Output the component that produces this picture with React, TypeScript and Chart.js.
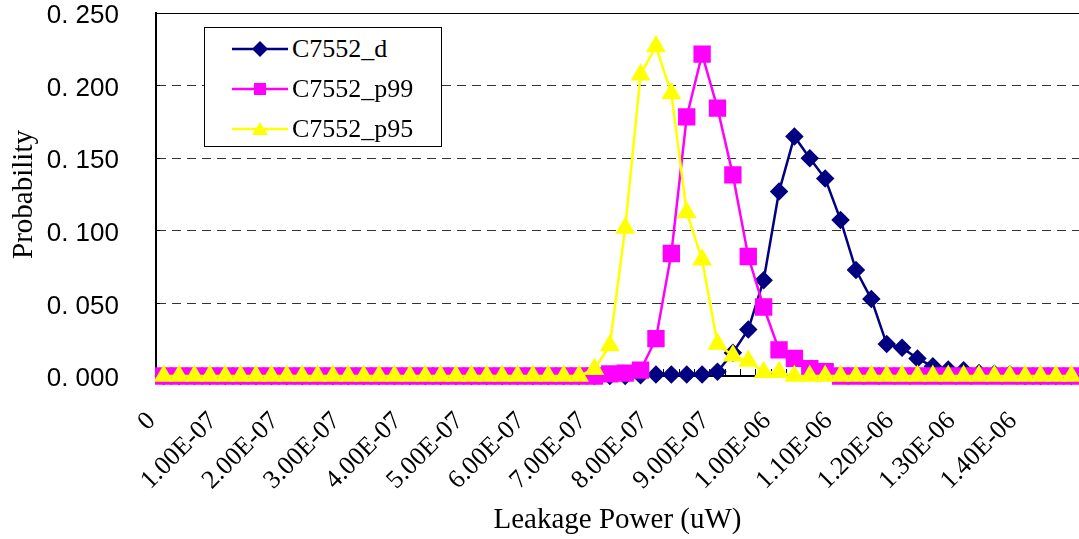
import React, { useEffect, useRef } from 'react';
import { Chart, registerables } from 'chart.js';

Chart.register(...registerables);

// Category axis: leakage power values (uW), one per bin
const categories: string[] = [
  '0', '2.50E-08', '5.00E-08', '7.50E-08', '1.00E-07', '1.25E-07', '1.50E-07', '1.75E-07',
  '2.00E-07', '2.25E-07', '2.50E-07', '2.75E-07', '3.00E-07', '3.25E-07', '3.50E-07', '3.75E-07',
  '4.00E-07', '4.25E-07', '4.50E-07', '4.75E-07', '5.00E-07', '5.25E-07', '5.50E-07', '5.75E-07',
  '6.00E-07', '6.25E-07', '6.50E-07', '6.75E-07', '7.00E-07', '7.25E-07', '7.50E-07', '7.75E-07',
  '8.00E-07', '8.25E-07', '8.50E-07', '8.75E-07', '9.00E-07', '9.25E-07', '9.50E-07', '9.75E-07',
  '1.00E-06', '1.03E-06', '1.05E-06', '1.08E-06', '1.10E-06', '1.13E-06', '1.15E-06', '1.18E-06',
  '1.20E-06', '1.23E-06', '1.25E-06', '1.28E-06', '1.30E-06', '1.33E-06', '1.35E-06', '1.38E-06',
  '1.40E-06', '1.43E-06', '1.45E-06', '1.48E-06',
];

const labelEvery = 4;

const seriesD: number[] = [
  0, 0, 0, 0, 0, 0, 0, 0, 0, 0,
  0, 0, 0, 0, 0, 0, 0, 0, 0, 0,
  0, 0, 0, 0, 0, 0, 0, 0, 0, 0,
  0, 0.0005, 0.001, 0.001, 0.001, 0.001, 0.003, 0.016, 0.032, 0.066,
  0.127, 0.165, 0.150, 0.136, 0.1075, 0.073, 0.053, 0.022, 0.0195, 0.012,
  0.0067, 0.0044, 0.0039, 0.002, 0.0016, 0.0012, 0, 0, 0, 0,
];

const seriesP99: number[] = [
  0, 0, 0, 0, 0, 0, 0, 0, 0, 0,
  0, 0, 0, 0, 0, 0, 0, 0, 0, 0,
  0, 0, 0, 0, 0, 0, 0, 0, 0, 0.0015,
  0.002, 0.004, 0.0257, 0.0844, 0.1785, 0.2217, 0.1845, 0.1385, 0.0823, 0.0475,
  0.018, 0.0121, 0.005, 0.003, 0, 0, 0, 0, 0, 0,
  0, 0, 0, 0, 0, 0, 0, 0, 0, 0,
];

const seriesP95: number[] = [
  0, 0, 0, 0, 0, 0, 0, 0, 0, 0,
  0, 0, 0, 0, 0, 0, 0, 0, 0, 0,
  0, 0, 0, 0, 0, 0, 0, 0, 0.0047, 0.021,
  0.102, 0.2075, 0.227, 0.1946, 0.1126, 0.0801, 0.022, 0.014, 0.0103, 0.0025,
  0.0025, 0, 0, 0, 0, 0, 0, 0, 0, 0,
  0, 0, 0, 0, 0, 0, 0, 0, 0, 0,
];

const yTickLabels: string[] = ['0. 000', '0. 050', '0. 100', '0. 150', '0. 200', '0. 250'];

const seriesNames = ['C7552_d', 'C7552_p99', 'C7552_p95'];
const seriesColors = ['#000080', '#FF00FF', '#FFFF00'];

const W = 1079;
const H = 539;

function LegendMarker({ shape, color }: { shape: string; color: string }) {
  let m: React.ReactNode = null;
  if (shape === 'diamond') m = <polygon points="28,2 36,10 28,18 20,10" fill={color} />;
  else if (shape === 'square') m = <rect x={22} y={4} width={12} height={12} fill={color} />;
  else m = <polygon points="28,3 36,16 20,16" fill={color} />;
  return (
    <svg width={56} height={20} style={{ display: 'block' }}>
      <line x1={0} y1={10} x2={56} y2={10} stroke={color} strokeWidth={2.5} />
      {m}
    </svg>
  );
}

export default function App() {
  const ref = useRef<HTMLCanvasElement>(null);

  useEffect(() => {
    const canvas = ref.current;
    if (!canvas) return;
    const serif = "'Liberation Serif', 'Times New Roman', serif";
    const sans = "'Liberation Sans', Arial, sans-serif";
    const chart = new Chart(canvas, {
      type: 'line',
      data: {
        labels: categories,
        datasets: [
          {
            label: seriesNames[0],
            data: seriesD,
            borderColor: seriesColors[0],
            backgroundColor: seriesColors[0],
            pointBackgroundColor: seriesColors[0],
            pointBorderColor: seriesColors[0],
            pointStyle: 'rectRot',
            pointRadius: 7.5,
            borderWidth: 2.5,
            tension: 0,
            order: 2,
            clip: false as any,
          },
          {
            label: seriesNames[1],
            data: seriesP99,
            borderColor: seriesColors[1],
            backgroundColor: seriesColors[1],
            pointBackgroundColor: seriesColors[1],
            pointBorderColor: seriesColors[1],
            pointStyle: 'rect',
            pointRadius: 10.5,
            borderWidth: 2.5,
            tension: 0,
            order: 1,
            clip: false as any,
          },
          {
            label: seriesNames[2],
            data: seriesP95,
            borderColor: seriesColors[2],
            backgroundColor: seriesColors[2],
            pointBackgroundColor: seriesColors[2],
            pointBorderColor: seriesColors[2],
            pointStyle: 'triangle',
            pointRadius: 9,
            borderWidth: 2.5,
            tension: 0,
            order: 0,
            clip: false as any,
          },
        ],
      },
      options: {
        responsive: false,
        animation: false,
        devicePixelRatio: 1,
        layout: { autoPadding: false, padding: { top: 13, right: 0, left: 0, bottom: 0 } },
        plugins: {
          legend: { display: false },
          tooltip: { enabled: false },
        },
        scales: {
          x: {
            type: 'category',
            offset: true,
            grid: {
              offset: true,
              drawOnChartArea: false,
              drawTicks: true,
              tickLength: -7,
              color: '#000',
              lineWidth: 1,
            },
            border: { display: true, color: '#000', width: 2 },
            ticks: {
              autoSkip: false,
              maxRotation: 45,
              minRotation: 45,
              padding: 37,
              labelOffset: -12,
              color: '#000',
              font: { family: serif, size: 26 },
              callback: (_v: any, i: number) => (i % labelEvery === 0 ? categories[i] : ''),
            },
            title: {
              display: true,
              text: 'Leakage Power (uW)',
              color: '#000',
              font: { family: serif, size: 29 },
              padding: { top: 0, bottom: 1 },
            },
            afterFit: (s: any) => {
              s.height = 163;
              s.paddingLeft = 0;
              s.paddingRight = 0;
            },
          },
          y: {
            min: 0,
            max: 0.25,
            ticks: {
              stepSize: 0.05,
              padding: 41,
              labelOffset: 3,
              color: '#000',
              font: { family: sans, size: 26 },
              callback: (_v: any, i: number) => yTickLabels[i],
            },
            grid: {
              drawTicks: true,
              tickLength: -4,
              tickColor: '#000',
              lineWidth: 1,
              color: (ctx: any) => {
                const v = ctx.tick ? ctx.tick.value : 0;
                if (v === 0) return 'rgba(0,0,0,0)';
                if (v >= 0.25) return '#000';
                return '#333';
              },
            },
            border: {
              display: true,
              color: '#000',
              width: 2,
              dash: (ctx: any) => (ctx.tick && ctx.tick.value < 0.25 ? [9, 6] : []),
            },
            title: {
              display: true,
              text: 'Probability',
              color: '#000',
              font: { family: serif, size: 29 },
              padding: { top: 7, bottom: 0 },
            },
            afterFit: (s: any) => {
              s.width = 156;
              s.paddingTop = 0;
              s.paddingBottom = 0;
            },
          },
        },
      },
    });
    return () => chart.destroy();
  }, []);

  const shapes = ['diamond', 'square', 'triangle'];

  return (
    <div style={{ position: 'fixed', left: 0, top: 0, width: W, height: H, background: '#fff' }}>
      <canvas ref={ref} width={W} height={H} style={{ display: 'block', width: W, height: H }} />
      <div
        style={{
          position: 'absolute',
          left: 204,
          top: 27,
          width: 238,
          height: 120,
          border: '1px solid #000',
          boxSizing: 'border-box',
          background: '#fff',
        }}
      >
        {seriesNames.map((name, i) => (
          <div
            key={name}
            style={{
              position: 'absolute',
              left: 27,
              top: 1 + i * 40,
              height: 40,
              display: 'flex',
              alignItems: 'center',
            }}
          >
            <LegendMarker shape={shapes[i]} color={seriesColors[i]} />
            <span
              style={{
                marginLeft: 4,
                fontFamily: "'Liberation Serif', 'Times New Roman', serif",
                fontSize: 26,
                lineHeight: '40px',
                color: '#000',
                whiteSpace: 'nowrap',
              }}
            >
              {name}
            </span>
          </div>
        ))}
      </div>
    </div>
  );
}
